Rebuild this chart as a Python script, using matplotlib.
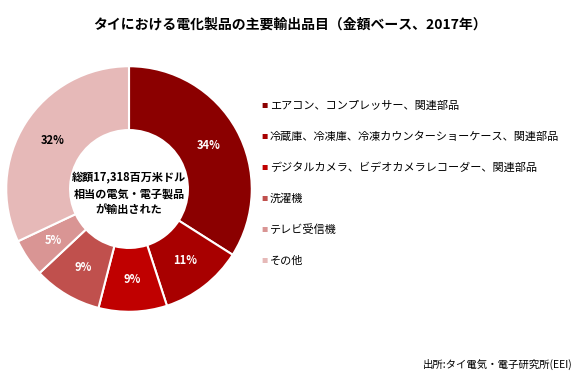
import matplotlib
matplotlib.use('Agg')
import matplotlib.pyplot as plt

plt.rcParams['font.family'] = ['Noto Sans CJK JP', 'DejaVu Sans']

# datos
categorias = ['エアコン、コンプレッサー、関連部品',
              '冷蔵庫、冷凍庫、冷凍カウンターショーケース、関連部品',
              'デジタルカメラ、ビデオカメラレコーダー、関連部品',
              '洗濯機',
              'テレビ受信機',
              'その他']
valores = [34, 11, 9, 9, 5, 32]
colores = ['#8b0000', '#a80000', '#c00000', '#c0504d', '#d99594', '#e6b9b8']
color_texto = ['white', 'white', 'white', 'white', 'white', 'black']

fig = plt.figure(figsize=(5.8, 3.78), dpi=100)

ax = fig.add_axes([5/580, 1 - 313/378, 248/580, 248/378])
wedges, texts, autotexts = ax.pie(valores, colors=colores, startangle=90, counterclock=False,
                                  autopct='%d%%', pctdistance=0.74,
                                  wedgeprops=dict(width=0.52, edgecolor='white', linewidth=1.5))
for t, c in zip(autotexts, color_texto):
    t.set_color(c)
    t.set_fontsize(8)
    t.set_fontweight('bold')
ax.text(0, -0.04, '総額17,318百万米ドル\n相当の電気・電子製品\nが輸出された', ha='center', va='center',
        fontsize=8, fontweight='bold', linespacing=1.3)
ax.set_xlim(-1.01, 1.01)
ax.set_ylim(-1.01, 1.01)
ax.set_aspect('equal')

# titulo
fig.text(0.5, 1 - 25/378, 'タイにおける電化製品の主要輸出品目（金額ベース、2017年）', ha='center', va='center',
         fontsize=10, fontweight='bold')

# leyenda manual
for i, (cat, col) in enumerate(zip(categorias, colores)):
    y = 1 - (106 + i * 31) / 378
    fig.text(261/580, y, '■', color=col, fontsize=4.5, ha='left', va='center')
    fig.text(270/580, y, cat, fontsize=8, ha='left', va='center')

# fuente
fig.text(573/580, 1 - 364/378, '出所:タイ電気・電子研究所(EEI)', ha='right', va='center',
         fontsize=7.5, style='italic')

fig.savefig('out.png', dpi=100)
